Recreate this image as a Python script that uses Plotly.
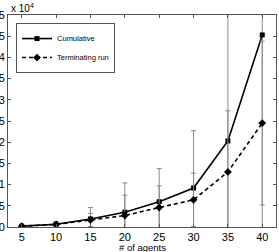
import plotly.graph_objects as go

agents = [5, 10, 15, 20, 25, 30, 35, 40]
cumulative = [200, 650, 1900, 3500, 5970, 9200, 20300, 45300]
cumulative_err = [150, 600, 2700, 6900, 7800, 13500, 32000, 50000]
terminating = [180, 600, 1650, 2700, 4600, 6400, 13000, 24500]
terminating_err = [100, 400, 1550, 4800, 5100, 6300, 14400, 19300]
y_tick_vals = [0, 5000, 10000, 15000, 20000, 25000, 30000, 35000, 40000, 45000, 50000]
y_tick_text = ["0", "0.5", "1", "1.5", "2", "2.5", "3", "3.5", "4", "4.5", "5"]
x_tick_vals = [5, 10, 15, 20, 25, 30, 35, 40]

FONT = "Liberation Sans, Arial, Helvetica, sans-serif"
err_style = dict(type="data", visible=True, color="#8a8a8a", thickness=1, width=2.5)

fig = go.Figure()
fig.add_trace(go.Scatter(
    x=agents, y=cumulative, name="Cumulative", mode="lines+markers",
    line=dict(color="black", width=1.6),
    marker=dict(symbol="square", size=5, color="black"),
    error_y=dict(array=cumulative_err, **err_style),
))
fig.add_trace(go.Scatter(
    x=agents, y=terminating, name="Terminating run", mode="lines+markers",
    line=dict(color="black", width=1.6, dash="4px,3px"),
    marker=dict(symbol="diamond", size=6, color="black"),
    error_y=dict(array=terminating_err, **err_style),
))

axis_common = dict(
    showline=True, linecolor="#555555", linewidth=1, mirror="ticks",
    ticks="inside", ticklen=3, tickcolor="#555555", showgrid=False, zeroline=False,
    automargin=False,
    tickfont=dict(family=FONT, size=11, color="black"),
)
fig.update_xaxes(range=[3, 42], tickvals=x_tick_vals, **axis_common)
fig.update_yaxes(range=[0, 50000], tickvals=y_tick_vals, ticktext=y_tick_text, **axis_common)

fig.add_annotation(x=0, y=1, xref="paper", yref="paper", xanchor="left", yanchor="bottom",
                   text="x 10<sup>4</sup>", showarrow=False, xshift=1, yshift=-1,
                   font=dict(family=FONT, size=10, color="black"))
fig.add_annotation(x=0.5, y=0, xref="paper", yref="paper", xanchor="center", yanchor="top",
                   text="# of agents", showarrow=False, yshift=-13,
                   font=dict(family=FONT, size=9.5, color="black"))

fig.update_layout(
    width=279, height=252,
    margin=dict(l=8, r=3, t=15, b=25, pad=0, autoexpand=False),
    paper_bgcolor="white", plot_bgcolor="white",
    showlegend=True,
    legend=dict(x=0.03, y=0.962, xanchor="left", yanchor="top",
                bgcolor="white", bordercolor="#555555", borderwidth=1,
                font=dict(family=FONT, size=7.5, color="black"),
                tracegroupgap=0, itemwidth=30),
)
fig.write_html("out.html", config={"displayModeBar": False},
               post_script="document.body.style.margin='0';")
